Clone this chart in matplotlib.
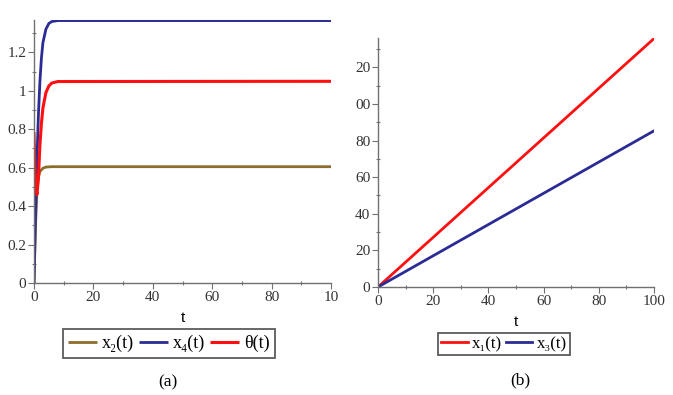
import numpy as np
import matplotlib.pyplot as plt
from matplotlib.ticker import MultipleLocator, FixedLocator, FixedFormatter

plt.rcParams['font.family'] = ['Liberation Serif', 'DejaVu Serif']

# ---------------- data ----------------
# panel (a)
t_x2 = [0, 0.5, 1, 1.5, 2, 3, 4, 6, 100]
x2 = [0, 0.30, 0.48, 0.55, 0.58, 0.597, 0.603, 0.605, 0.605]

t_x4 = [0, 0.5, 1, 1.5, 2, 2.5, 3, 4, 5, 6, 8, 100]
x4 = [0, 0.35, 0.65, 0.88, 1.05, 1.17, 1.25, 1.32, 1.35, 1.36, 1.365, 1.365]

t_th = [0, 0.3, 0.6, 1, 1.5, 2, 2.5, 3, 4, 5, 6, 8, 100]
theta = [0.785, 0.60, 0.50, 0.46, 0.55, 0.72, 0.83, 0.91, 0.99, 1.025, 1.04, 1.048, 1.049]

# panel (b)
t_lin = [0, 100]
x1 = [0, 135.7]
x3 = [0, 85.3]

a_yticks = [0, 0.2, 0.4, 0.6, 0.8, 1.0, 1.2]
a_ylabels = ['0', '0.2', '0.4', '0.6', '0.8', '1', '1.2']
a_xticks = [0, 20, 40, 60, 80, 100]
a_xlabels = ['0', '20', '40', '60', '80', '10']   # last label is cut off in the original
b_yticks = [0, 20, 40, 60, 80, 100, 120]
b_ylabels = ['0', '20', '40', '60', '80', '00', '20']  # cut off on the left in the original
b_xticks = [0, 20, 40, 60, 80, 100]
b_xlabels = ['0', '20', '40', '60', '80', '100']

c_brown = '#8c6d2c'
c_blue = '#2b2b96'
c_red = '#ff1010'

W, H = 673, 395
fig = plt.figure(figsize=(W / 100, H / 100), dpi=100)


def px_axes(x0, y0, x1_, y1_):
    return fig.add_axes([x0 / W, 1 - y1_ / H, (x1_ - x0) / W, (y1_ - y0) / H])


def style(ax):
    for s in ['top', 'right']:
        ax.spines[s].set_visible(False)
    for s in ['left', 'bottom']:
        ax.spines[s].set_color('#707070')
        ax.spines[s].set_linewidth(1.0)
    ax.tick_params(which='major', direction='out', length=4, width=0.8,
                   color='#707070', labelsize=11, labelcolor='#333333', pad=1.5)
    ax.tick_params(which='minor', direction='inout', length=3, width=0.8, color='#707070')
    ax.set_xlabel('t', family=['Liberation Sans', 'DejaVu Sans'], fontsize=11, labelpad=5)


# ---------------- panel (a) ----------------
ax1 = px_axes(34, 20, 331, 283)
ax1.plot(t_x2, x2, color=c_brown, lw=2.0, label='x\u2082(t)', solid_capstyle='butt')
ax1.plot(t_x4, x4, color=c_blue, lw=2.0, label='x\u2084(t)', solid_capstyle='butt')
ax1.plot(t_th, theta, color=c_red, lw=2.2, label='\u03b8(t)', solid_capstyle='butt')
ax1.set_xlim(0, 100)
ax1.set_ylim(0, 1.368)
ax1.xaxis.set_major_locator(FixedLocator(a_xticks))
ax1.xaxis.set_major_formatter(FixedFormatter(a_xlabels))
ax1.xaxis.set_minor_locator(MultipleLocator(10))
ax1.yaxis.set_major_locator(FixedLocator(a_yticks))
ax1.yaxis.set_major_formatter(FixedFormatter(a_ylabels))
ax1.yaxis.set_minor_locator(MultipleLocator(0.1))
style(ax1)
leg1 = ax1.legend(loc='center', bbox_to_anchor=((60 + 278) / 2 / W, 1 - 343.5 / H),
                  bbox_transform=fig.transFigure, ncol=3, fontsize=13, frameon=True,
                  fancybox=False, handlelength=1.6, handletextpad=0.25, columnspacing=0.3,
                  borderpad=0.3, borderaxespad=0)
leg1.get_frame().set_edgecolor('#333333')
leg1.get_frame().set_linewidth(1.3)

# ---------------- panel (b) ----------------
ax2 = px_axes(378, 38, 654, 287)
ax2.plot(t_lin, x1, color=c_red, lw=2.0, label='x\u2081(t)')
ax2.plot(t_lin, x3, color=c_blue, lw=2.0, label='x\u2083(t)')
ax2.set_xlim(0, 100)
ax2.set_ylim(0, 136)
ax2.xaxis.set_major_locator(FixedLocator(b_xticks))
ax2.xaxis.set_major_formatter(FixedFormatter(b_xlabels))
ax2.xaxis.set_minor_locator(MultipleLocator(10))
ax2.yaxis.set_major_locator(FixedLocator(b_yticks))
ax2.yaxis.set_major_formatter(FixedFormatter(b_ylabels))
ax2.yaxis.set_minor_locator(MultipleLocator(10))
style(ax2)
leg2 = ax2.legend(loc='center', bbox_to_anchor=((433 + 575) / 2 / W, 1 - 344 / H),
                  bbox_transform=fig.transFigure, ncol=2, fontsize=12, frameon=True,
                  fancybox=False, handlelength=1.6, handletextpad=0.25, columnspacing=0.2,
                  borderpad=0.2, borderaxespad=0)
leg2.get_frame().set_edgecolor('#333333')
leg2.get_frame().set_linewidth(1.3)

fig.text(168 / W, 1 - 382 / H, '(a)', ha='center', va='center', fontsize=12.5)
fig.text(520 / W, 1 - 380 / H, '(b)', ha='center', va='center', fontsize=12.5)

fig.savefig('out.png', dpi=100)
